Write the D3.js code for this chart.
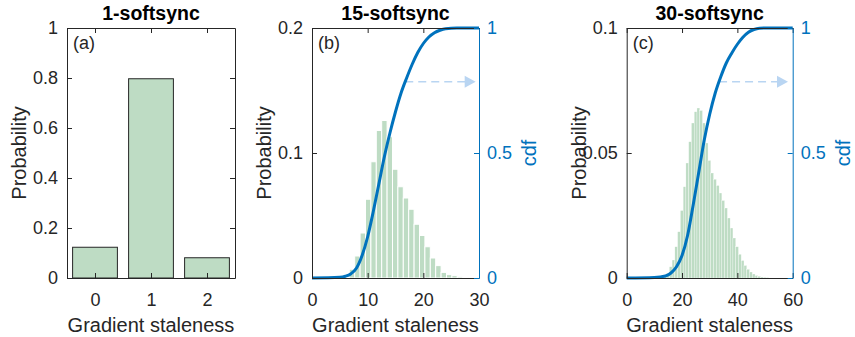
<!DOCTYPE html>
<html>
<head>
<meta charset="utf-8">
<script src="https://cdn.jsdelivr.net/npm/d3@7"></script>
<style>
body { margin: 0; background: #fff; }
svg text { font-family: "Liberation Sans", Arial, sans-serif; }
</style>
</head>
<body>
<svg id="chart" width="855" height="337"></svg>
<script>
// (a) 1-softsync
var stalenessA = [0, 1, 2];
var probA = [0.123, 0.797, 0.081];

// (b) 15-softsync : histogram bins (start, width) + probabilities
var binStartB = 6.7, binWidthB = 0.97;
var probB = [0.007, 0.0176, 0.036, 0.063, 0.093, 0.118, 0.126, 0.113, 0.087, 0.073, 0.064,
             0.055, 0.043, 0.034, 0.025, 0.016, 0.0099, 0.0045, 0.0027, 0.0019, 0.001, 0.0005];
var cdfXB = [0, 5, 6, 7, 8, 9, 10, 11, 12, 13, 14, 15, 16, 17, 18, 19, 20, 21, 22, 23, 24, 26, 30];
var cdfYB = [0, 0.003, 0.007, 0.017, 0.04, 0.09, 0.165, 0.265, 0.375, 0.485, 0.58, 0.665, 0.74,
             0.8, 0.855, 0.902, 0.938, 0.964, 0.981, 0.991, 0.997, 1, 1];

// (c) 30-softsync
var binStartC = 12.4, binWidthC = 1;
var probC = [0.0003, 0.0008, 0.002, 0.0045, 0.0072, 0.0125, 0.0185, 0.027, 0.0365, 0.046, 0.0545,
             0.062, 0.0665, 0.068, 0.067, 0.062, 0.054, 0.047, 0.042, 0.0395, 0.037, 0.034, 0.031,
             0.028, 0.024, 0.02, 0.016, 0.0125, 0.0095, 0.007, 0.005, 0.0035, 0.0024, 0.0016,
             0.001, 0.0007, 0.0004, 0.0003, 0.0002];
var cdfXC = [0, 10, 14, 16, 18, 20, 22, 24, 26, 28, 30, 32, 34, 36, 38, 40, 42, 44, 46, 48, 50, 60];
var cdfYC = [0, 0.002, 0.008, 0.02, 0.045, 0.09, 0.17, 0.29, 0.42, 0.55, 0.655, 0.74, 0.805,
             0.86, 0.9, 0.935, 0.963, 0.983, 0.994, 0.999, 1, 1];

// dashed arrow annotations: [cdf level, x end]
var arrowB = [0.785, 29.4];
var arrowC = [0.785, 58.3];

var titles = ['1-softsync', '15-softsync', '30-softsync'];
var tags = ['(a)', '(b)', '(c)'];

var svg = d3.select('#chart');
var ink = '#262626';
var blue = '#0072BD';
var green = '#bedcc4';
var plotTop = 28, plotBottom = 278;
var fmt = d => String(d);

function frame(g, x, y, xTicks, yTicks, i) {
	var left = x.range()[0], right = x.range()[1];

	var xAxis = d3.axisBottom(x).tickValues(xTicks).tickFormat(fmt).tickSizeInner(-5).tickSizeOuter(0).tickPadding(15);
	var yAxis = d3.axisLeft(y).tickValues(yTicks).tickFormat(fmt).tickSizeInner(-5).tickSizeOuter(0).tickPadding(9);

	g.append('g').attr('transform', `translate(0,${plotBottom})`).call(xAxis);
	g.append('g').attr('transform', `translate(${left},0)`).call(yAxis);
	g.append('g').attr('transform', `translate(0,${plotTop})`)
	  .call(d3.axisTop(x).tickValues(xTicks).tickSizeInner(-5).tickSizeOuter(0).tickFormat(''));

	g.selectAll('.domain, .tick line').attr('stroke', ink);
	g.selectAll('.tick text').attr('fill', ink).style('font-size', '18px');

	g.append('text')
	  .attr('x', (left + right) / 2).attr('y', 332)
	  .attr('text-anchor', 'middle').style('font-size', '20px').attr('fill', ink)
	  .text('Gradient staleness');
	g.append('text')
	  .attr('transform', `translate(${left - 41},${(plotTop + plotBottom) / 2}) rotate(-90)`)
	  .attr('text-anchor', 'middle').style('font-size', '20px').attr('fill', ink)
	  .text('Probability');
	g.append('text')
	  .attr('x', (left + right) / 2).attr('y', 20)
	  .attr('text-anchor', 'middle').style('font-size', '19.5px').style('font-weight', 'bold').attr('fill', '#000')
	  .text(titles[i]);
	g.append('text')
	  .attr('x', left + 6).attr('y', 49)
	  .style('font-size', '18px').attr('fill', ink)
	  .text(tags[i]);
}

function cdfAxis(g, x, yc) {
	var right = x.range()[1];
	g.append('g').attr('transform', `translate(${right},0)`)
	  .call(d3.axisRight(yc).tickValues([0, 0.5, 1]).tickFormat(fmt).tickSizeInner(-5).tickSizeOuter(0).tickPadding(8))
	  .call(a => a.selectAll('.domain, .tick line').attr('stroke', blue))
	  .call(a => a.selectAll('.tick text').attr('fill', blue).style('font-size', '18px'));
	g.append('text')
	  .attr('transform', `translate(${right + 57},${(plotTop + plotBottom) / 2}) rotate(-90)`)
	  .attr('text-anchor', 'middle').style('font-size', '20px').attr('fill', blue)
	  .text('cdf');
}

function histPanel(left, right, xMax, yMax, xTicks, yTicks, binStart, binWidth, probs, cx, cy, arrow, edge, i) {
	var g = svg.append('g');
	var x = d3.scaleLinear().domain([0, xMax]).range([left, right]);
	var y = d3.scaleLinear().domain([0, yMax]).range([plotBottom, plotTop]);
	var yc = d3.scaleLinear().domain([0, 1]).range([plotBottom, plotTop]);

	g.append('g').selectAll('rect')
	  .data(probs)
	  .enter()
	  .append('rect')
	    .attr('x', (d, k) => x(binStart + k * binWidth))
	    .attr('width', x(binWidth) - x(0))
	    .attr('y', d => y(d))
	    .attr('height', d => plotBottom - y(d))
	    .attr('fill', green)
	    .attr('stroke', '#fff')
	    .attr('stroke-width', edge);

	// dashed arrow from the curve to the cdf axis
	var pts = cx.map((v, k) => [v, cy[k]]);
	var k = cy.findIndex(v => v >= arrow[0]);
	var xs = cx[k - 1] + (arrow[0] - cy[k - 1]) / (cy[k] - cy[k - 1]) * (cx[k] - cx[k - 1]);
	var ay = yc(arrow[0]);
	g.append('line')
	  .attr('x1', x(xs)).attr('x2', x(arrow[1]) - 10)
	  .attr('y1', ay).attr('y2', ay)
	  .attr('stroke', '#b9d5f2').attr('stroke-width', 1.5).attr('stroke-dasharray', '8,5');
	g.append('path')
	  .attr('d', d3.line()([[x(arrow[1]), ay], [x(arrow[1]) - 11, ay - 6], [x(arrow[1]) - 11, ay + 6]]) + 'Z')
	  .attr('fill', '#b9d5f2');

	g.append('path')
	  .datum(pts)
	  .attr('d', d3.line().x(d => x(d[0])).y(d => yc(d[1])).curve(d3.curveMonotoneX))
	  .attr('fill', 'none')
	  .attr('stroke', blue)
	  .attr('stroke-width', 3);

	frame(g, x, y, xTicks, yTicks, i);
	cdfAxis(g, x, yc);
}

// panel (a)
(function () {
	var g = svg.append('g');
	var left = 67, right = 235;
	var x = d3.scaleLinear().domain([-0.5, 2.5]).range([left, right]);
	var y = d3.scaleLinear().domain([0, 1]).range([plotBottom, plotTop]);
	var yTicks = [0, 0.2, 0.4, 0.6, 0.8, 1];

	g.selectAll('rect')
	  .data(probA)
	  .enter()
	  .append('rect')
	    .attr('x', (d, k) => x(stalenessA[k] - 0.4))
	    .attr('width', x(0.8) - x(0))
	    .attr('y', d => y(d))
	    .attr('height', d => plotBottom - y(d))
	    .attr('fill', green)
	    .attr('stroke', ink)
	    .attr('stroke-width', 1);

	frame(g, x, y, stalenessA, yTicks, 0);
	g.append('g').attr('transform', `translate(${right},0)`)
	  .call(d3.axisRight(y).tickValues(yTicks).tickSizeInner(-5).tickSizeOuter(0).tickFormat(''))
	  .call(a => a.selectAll('.domain, .tick line').attr('stroke', ink));
})();

histPanel(312, 479, 30, 0.2, [0, 10, 20, 30], [0, 0.1, 0.2], binStartB, binWidthB, probB, cdfXB, cdfYB, arrowB, 1, 1);
histPanel(626.7, 792.7, 60, 0.1, [0, 20, 40, 60], [0, 0.05, 0.1], binStartC, binWidthC, probC, cdfXC, cdfYC, arrowC, 0.3, 2);
</script>
</body>
</html>
